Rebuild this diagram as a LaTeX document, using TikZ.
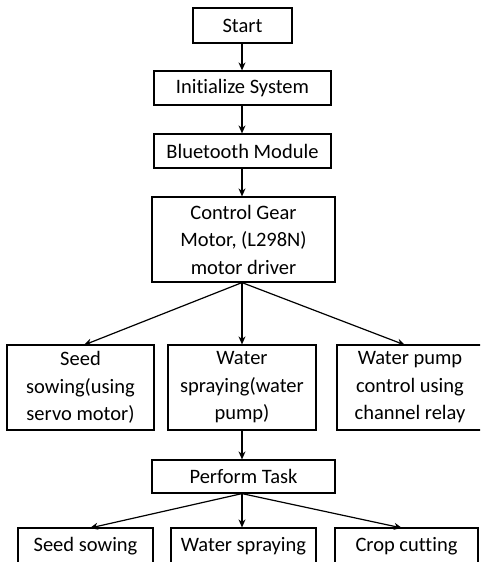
\documentclass[tikz,border=0pt]{standalone}
\usepackage{fontspec}
\setmainfont{Carlito}[Ligatures={NoCommon,NoContextual}]
\usetikzlibrary{arrows.meta}
\begin{document}
\begin{tikzpicture}[x=1pt,y=-1pt,
  box/.style={draw,line width=1.2pt,fill=white,inner sep=0pt,font=\fontsize{20.5}{27.5}\selectfont,align=center},
  link/.style={line width=1.2pt,-{Stealth[length=8pt,width=7pt]}}]
\useasboundingbox[fill=white] (0,0) rectangle (480,562);
\begin{scope}
\clip (0,0) rectangle (480,562);
% main chain
\node[box,minimum width=99pt,minimum height=35pt] (start) at (242.5,25.5) {Start};
\node[box,minimum width=177pt,minimum height=34pt] (init) at (242.5,88) {Initialize System};
\node[box,minimum width=177pt,minimum height=34pt] (bt) at (242.5,151) {Bluetooth Module};
\node[box,minimum width=183pt,minimum height=85pt] (ctrl) at (243.5,239.5) {Control Gear\\Motor, (L298N)\\motor driver};
% actuator branches
\node[box,minimum width=147pt,minimum height=85pt] (seed) at (80.5,387.5) {Seed\\sowing(using\\servo motor)};
\node[box,minimum width=148pt,minimum height=85pt] (water) at (242,387.5) {Water\\spraying(water\\pump)};
\node[box,minimum width=146pt,minimum height=85pt] (relay) at (410,387.5) {Water pump\\control using\\channel relay};
\node[box,minimum width=183pt,minimum height=33pt] (task) at (243.5,476.5) {Perform Task};
% tasks
\node[box,minimum width=135pt,minimum height=36pt] (tseed) at (85.5,546) {Seed sowing};
\node[box,minimum width=145pt,minimum height=36pt] (twater) at (243.5,546) {Water spraying};
\node[box,minimum width=143pt,minimum height=36pt] (tcrop) at (406.5,546) {Crop cutting};
\end{scope}
% vertical axis shared by the straight connectors
\coordinate (axis) at (242,0);
\draw[link] (axis |- start.south) -- (axis |- init.north);
\draw[link] (axis |- init.south) -- (axis |- bt.north);
\draw[link] (axis |- bt.south) -- (axis |- ctrl.north);
\coordinate (cb) at (axis |- ctrl.south);
\coordinate (seedin) at (84,345);
\coordinate (relayin) at (405,345);
\draw[link] (cb) -- (seedin);
\draw[link] (cb) -- (axis |- water.north);
\draw[link] (cb) -- (relayin);
\draw[link] (axis |- water.south) -- (axis |- task.north);
\coordinate (tb) at (axis |- task.south);
\coordinate (tseedin) at (90,528);
\coordinate (tcropin) at (402,528);
\draw[link] (tb) -- (tseedin);
\draw[link] (tb) -- (axis |- twater.north);
\draw[link] (tb) -- (tcropin);
\end{tikzpicture}
\end{document}
